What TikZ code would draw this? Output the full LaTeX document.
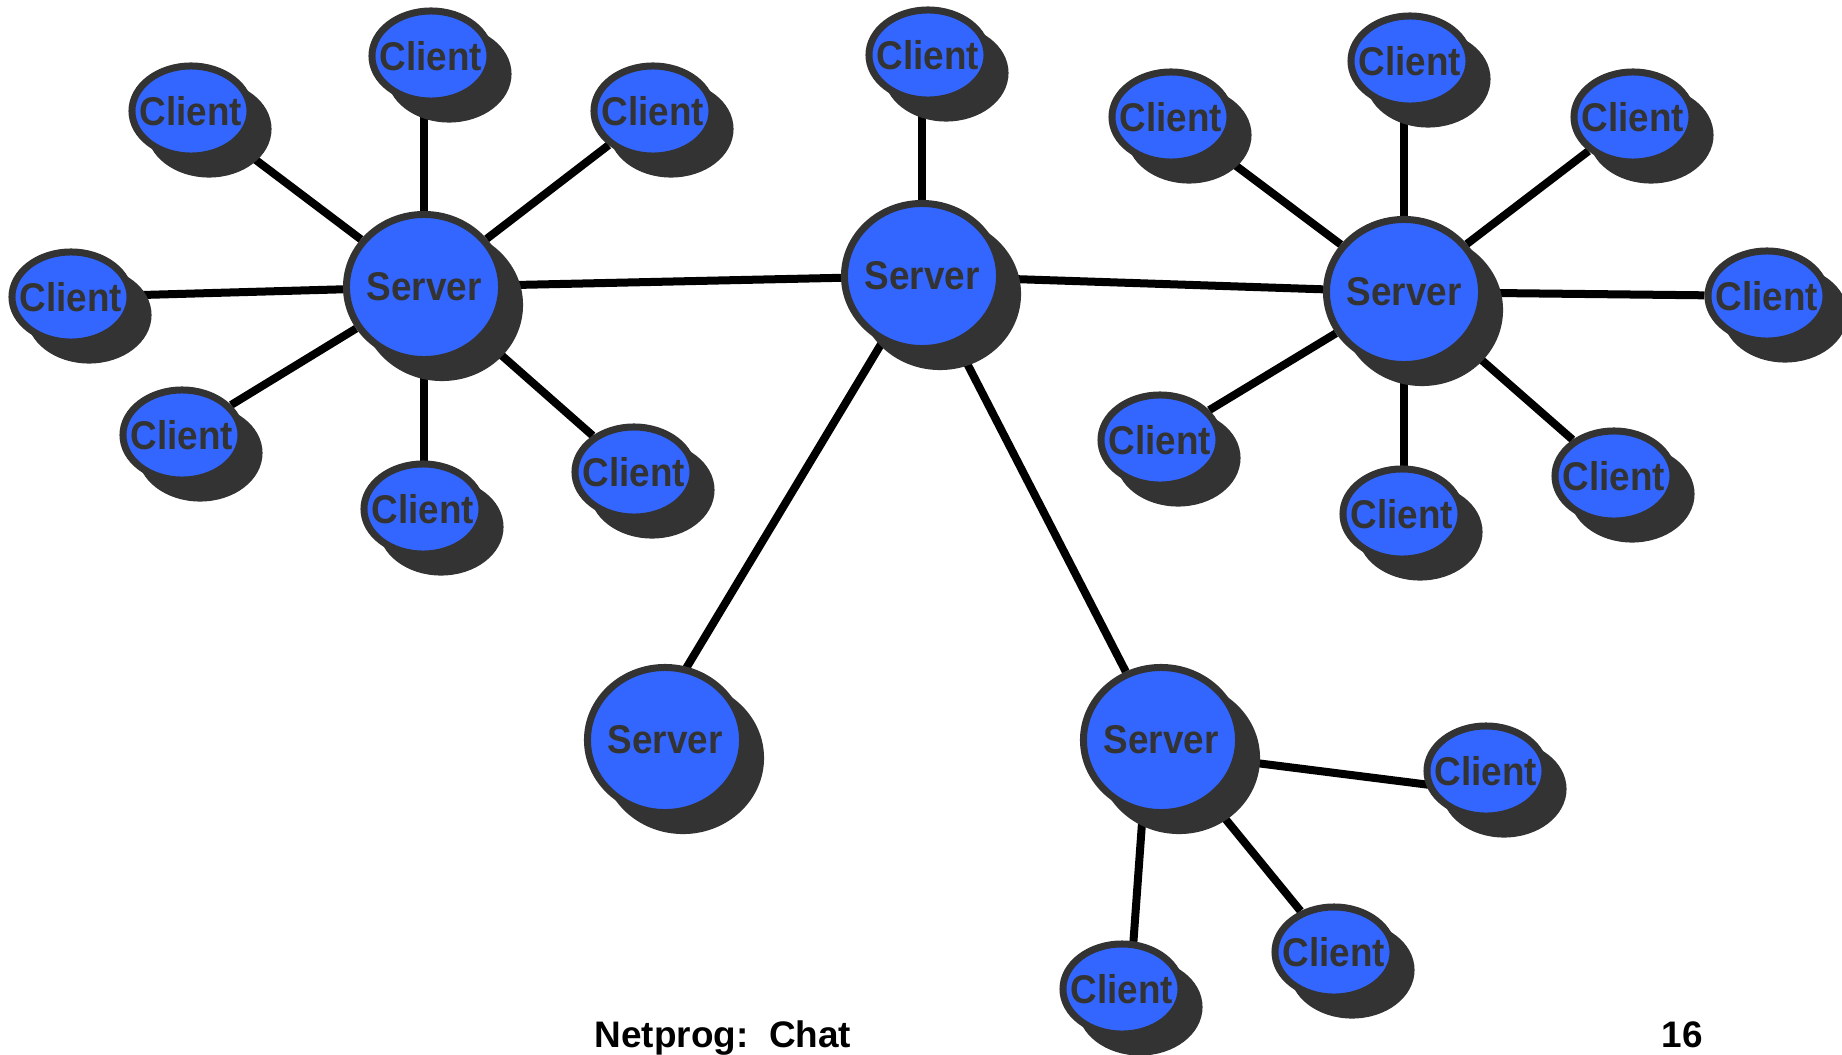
\documentclass[tikz,border=0pt]{standalone}
\usepackage{fontspec}
\usepackage{tikz}
\usetikzlibrary{shapes.geometric,shadows,backgrounds}
\newfontfamily\labelfont[FakeStretch=0.92]{Liberation Sans}
\newfontfamily\footfont{Liberation Sans}
\definecolor{nodeblue}{HTML}{3366FF}
\definecolor{rimgray}{HTML}{333333}
\tikzset{
  host/.style={ellipse,draw=rimgray,line width=0.07cm,fill=nodeblue,text=rimgray,inner ysep=0pt,inner xsep=-0.12cm,
    font=\labelfont\bfseries\fontsize{11.4}{12}\selectfont,
    drop shadow={shadow xshift=0.18cm,shadow yshift=-0.18cm,opacity=1,fill=rimgray,draw=rimgray,line width=0.07cm}},
  server/.style={host,minimum width=1.55cm,minimum height=1.45cm},
  client/.style={host,minimum width=1.18cm,minimum height=0.9cm}
}

\begin{document}
\begin{tikzpicture}[x=0.01cm,y=-0.01cm]
\useasboundingbox (0,0) rectangle (1842,1054);
\begin{scope}[every node/.style={server}]
  \node (S1) at (424,287) {Server};
  \node (S2) at (922,276) {Server};
  \node (S3) at (1404,292) {Server};
  \node (S4) at (665,740) {Server};
  \node (S5) at (1161,740) {Server};
\end{scope}

\begin{scope}[every node/.style={client}]
  % left group
  \node (C1) at (431,56) {Client};
  \node (C2) at (191,111) {Client};
  \node (C3) at (653,111) {Client};
  \node (C4) at (71,297) {Client};
  \node (C5) at (182,435) {Client};
  \node (C6) at (423,509) {Client};
  \node (C7) at (634,472) {Client};
  % middle
  \node (C8) at (928,55) {Client};
  % right group
  \node (C9) at (1410,61) {Client};
  \node (C10) at (1171,117) {Client};
  \node (C11) at (1633,117) {Client};
  \node (C12) at (1767,296) {Client};
  \node (C13) at (1160,440) {Client};
  \node (C14) at (1402,514) {Client};
  \node (C15) at (1614,476) {Client};
  % bottom group
  \node (C16) at (1486,771) {Client};
  \node (C17) at (1334,952) {Client};
  \node (C18) at (1122,989) {Client};
\end{scope}

\begin{scope}[on background layer,every edge/.style={draw=black,line width=0.08cm}]
  \path (S1) edge (S1 |- C1) edge (C2) edge (C3) edge (C4) edge (C5) edge (S1 |- C6) edge (C7);
  \path (S3) edge (S3 |- C9) edge (C10) edge (C11) edge (C12) edge (C13) edge (S3 |- C14) edge (C15);
  \path (S2) edge (S2 |- C8) edge (S1) edge (S3) edge (S5);
  \path (S2) edge ([xshift=-0.22cm]S4.center);
  \path ([yshift=-0.11cm]S5.center) edge ([yshift=-0.21cm]C16.center);
  \path (S5) edge (C17);
  \path ([xshift=-0.13cm]S5.center) edge ([xshift=0.08cm]C18.center);
\end{scope}

\node[anchor=base west,inner sep=0pt,font=\footfont\bfseries\fontsize{10.5}{12}\selectfont] (title) at (594,1047) {Netprog:\ \ Chat};
\node[anchor=base,inner sep=0pt,font=\footfont\bfseries\fontsize{10.5}{12}\selectfont] (page) at (1682,1047) {16};
\end{tikzpicture}
\end{document}
